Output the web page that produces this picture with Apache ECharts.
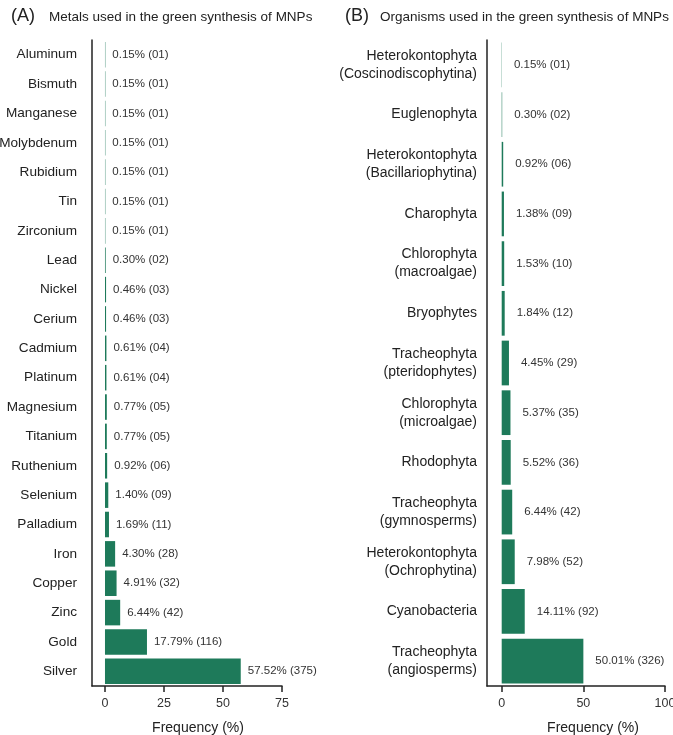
<!DOCTYPE html>
<html>
<head>
    <meta charset="UTF-8">
    <title>Green synthesis of MNPs</title>
    <script type="text/javascript" src="https://cdn.jsdelivr.net/npm/echarts@6/dist/echarts.min.js"></script>
    <style>
        html, body { margin: 0; padding: 0; background: #fff; }
    </style>
</head>
<body>
    <div id="chart_mnp" style="width:673px; height:735px;"></div>
    <script>
        // panel A: metals
        var metalNames = ["Aluminum", "Bismuth", "Manganese", "Molybdenum", "Rubidium", "Tin", "Zirconium",
            "Lead", "Nickel", "Cerium", "Cadmium", "Platinum", "Magnesium", "Titanium", "Ruthenium",
            "Selenium", "Palladium", "Iron", "Copper", "Zinc", "Gold", "Silver"];
        var metalPct = [0.15, 0.15, 0.15, 0.15, 0.15, 0.15, 0.15, 0.30, 0.46, 0.46, 0.61, 0.61, 0.77, 0.77,
            0.92, 1.40, 1.69, 4.30, 4.91, 6.44, 17.79, 57.52];
        var metalCount = ["01", "01", "01", "01", "01", "01", "01", "02", "03", "03", "04", "04", "05", "05",
            "06", "09", "11", "28", "32", "42", "116", "375"];

        // panel B: organisms
        var orgNames = ["Heterokontophyta\n(Coscinodiscophytina)", "Euglenophyta", "Heterokontophyta\n(Bacillariophytina)",
            "Charophyta", "Chlorophyta\n(macroalgae)", "Bryophytes", "Tracheophyta\n(pteridophytes)",
            "Chlorophyta\n(microalgae)", "Rhodophyta", "Tracheophyta\n(gymnosperms)", "Heterokontophyta\n(Ochrophytina)",
            "Cyanobacteria", "Tracheophyta\n(angiosperms)"];
        var orgPct = [0.15, 0.30, 0.92, 1.38, 1.53, 1.84, 4.45, 5.37, 5.52, 6.44, 7.98, 14.11, 50.01];
        var orgCount = ["01", "02", "06", "09", "10", "12", "29", "35", "36", "42", "52", "92", "326"];

        var ticksA = [0, 25, 50, 75];
        var ticksB = [0, 50, 100];

        var barColor = "#1e7a5a";
        var fontFamily = "Liberation Sans, Arial, sans-serif";

        function seriesData(pct, cnt) {
            return pct.map(function (v, i) {
                return { value: v, label: { formatter: v.toFixed(2) + "% (" + cnt[i] + ")" } };
            });
        }

        function valueAxis(idx, min, max, ticks, nameShift) {
            return {
                type: "value",
                gridIndex: idx,
                min: min,
                max: max,
                name: "Frequency (%)",
                nameLocation: "middle",
                nameGap: 35,
                nameTextStyle: { color: "#222", fontSize: 14, fontFamily: fontFamily, padding: [0, 0, 0, nameShift] },
                splitLine: { show: false },
                axisLine: { show: true, onZero: false, lineStyle: { color: "#222", width: 1.5 } },
                axisTick: { show: true, length: 6, customValues: ticks, lineStyle: { color: "#222", width: 1.5 } },
                axisLabel: { customValues: ticks, color: "#333", fontSize: 12.5, margin: 11, fontFamily: fontFamily }
            };
        }

        function categoryAxis(idx, names, margin, size) {
            return {
                type: "category",
                gridIndex: idx,
                data: names,
                inverse: true,
                axisLine: { show: true, onZero: false, lineStyle: { color: "#222", width: 1.5 } },
                axisTick: { show: false },
                axisLabel: { color: "#222", fontSize: size, margin: margin, lineHeight: 18, fontFamily: fontFamily }
            };
        }

        var chart_mnp = echarts.init(document.getElementById("chart_mnp"), null, { renderer: "canvas" });

        var option_mnp = {
            animation: false,
            backgroundColor: "#fff",
            title: [
                { text: "(A)", left: 6, top: 2, textStyle: { fontSize: 18, fontWeight: "normal", color: "#222", fontFamily: fontFamily } },
                { text: "Metals used in the green synthesis of MNPs", left: 44, top: 5, textStyle: { fontSize: 13.5, fontWeight: "normal", color: "#222", fontFamily: fontFamily } },
                { text: "(B)", left: 340, top: 2, textStyle: { fontSize: 18, fontWeight: "normal", color: "#222", fontFamily: fontFamily } },
                { text: "Organisms used in the green synthesis of MNPs", left: 375, top: 5, textStyle: { fontSize: 13.5, fontWeight: "normal", color: "#222", fontFamily: fontFamily } }
            ],
            grid: [
                { left: 92, top: 40, width: 190, height: 646, outerBoundsMode: "none", containLabel: false },
                { left: 487, top: 40, width: 178, height: 646, outerBoundsMode: "none", containLabel: false }
            ],
            xAxis: [
                valueAxis(0, -5.5, 75, ticksA, 22),
                valueAxis(1, -9, 100, ticksB, 34)
            ],
            yAxis: [
                categoryAxis(0, metalNames, 15, 13.6),
                categoryAxis(1, orgNames, 10, 14)
            ],
            series: [
                {
                    type: "bar",
                    name: "Metals",
                    xAxisIndex: 0,
                    yAxisIndex: 0,
                    barCategoryGap: "13%",
                    itemStyle: { color: barColor },
                    label: { show: true, position: "right", distance: 7, color: "#333", fontSize: 11.5, fontFamily: fontFamily },
                    data: seriesData(metalPct, metalCount)
                },
                {
                    type: "bar",
                    name: "Organisms",
                    xAxisIndex: 1,
                    yAxisIndex: 1,
                    barCategoryGap: "10%",
                    itemStyle: { color: barColor },
                    label: { show: true, position: "right", distance: 12, color: "#333", fontSize: 11.5, fontFamily: fontFamily },
                    data: seriesData(orgPct, orgCount)
                }
            ]
        };
        chart_mnp.setOption(option_mnp);
    </script>
</body>
</html>
